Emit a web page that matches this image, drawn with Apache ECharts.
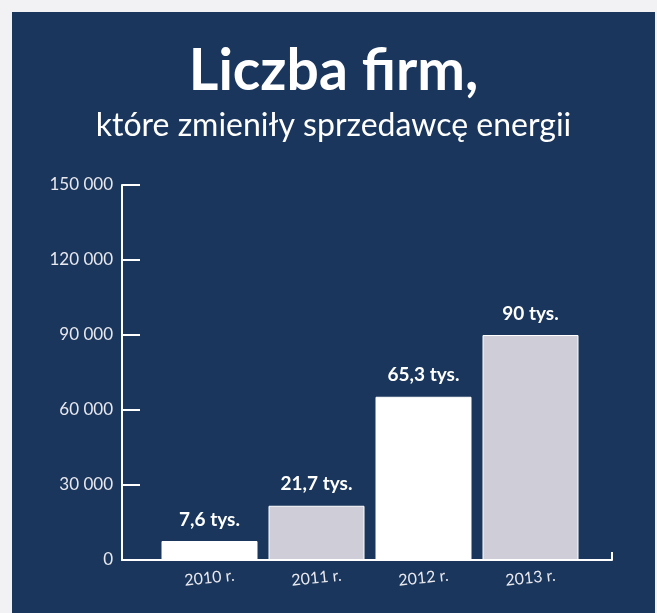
<!DOCTYPE html>
<html>
<head>
<meta charset="utf-8">
<script src="https://cdn.jsdelivr.net/npm/echarts@6/dist/echarts.min.js"></script>
<style>
  html, body { margin: 0; padding: 0; background: #f2f2f4; }
  #main { position: absolute; left: 12px; top: 12px; width: 643px; height: 601px; }
</style>
</head>
<body>
<div id="main"></div>
<script>
// dane
const years = ['2010 r.', '2011 r.', '2012 r.', '2013 r.'];
const firms = [7600, 21700, 65300, 90000];
const barColors = ['#ffffff', '#cfcdd8', '#ffffff', '#cfcdd8'];
const yTicks = [0, 30000, 60000, 90000, 120000, 150000];

const navy = '#1a365c';
const font = 'Lato';

let myChart = echarts.init(document.getElementById('main'));

let option = {
  backgroundColor: navy,
  animation: false,
  title: {
    text: 'Liczba firm,',
    subtext: 'które zmieniły sprzedawcę energii',
    left: 'center',
    top: 26,
    itemGap: 10,
    textStyle: { color: '#fff', fontFamily: font, fontWeight: 'bold', fontSize: 57 },
    subtextStyle: { color: '#fff', fontFamily: font, fontSize: 32 }
  },
  grid: [
    { left: 144, width: 428, top: 173, height: 375 },
    { left: 110, width: 490, top: 173, height: 375 }
  ],
  xAxis: [
    {
      type: 'category',
      gridIndex: 0,
      data: years,
      axisLine: { show: false },
      axisTick: { show: false },
      axisLabel: {
        color: '#e8e8ee', fontFamily: font, fontSize: 16,
        rotate: 6, align: 'center', verticalAlign: 'middle', margin: 18
      }
    },
    {
      type: 'value',
      gridIndex: 1,
      min: 0, max: 1, interval: 1,
      axisLine: { show: true, lineStyle: { color: '#fff', width: 2 } },
      axisTick: { show: true, inside: true, length: 8, lineStyle: { color: '#fff', width: 2 } },
      axisLabel: { show: false },
      splitLine: { show: false }
    }
  ],
  yAxis: [
    {
      type: 'value',
      gridIndex: 0,
      min: yTicks[0],
      max: yTicks[yTicks.length - 1],
      interval: 30000,
      offset: 34,
      axisLine: { show: true, lineStyle: { color: '#fff', width: 2 } },
      axisTick: { show: true, inside: true, length: 18, lineStyle: { color: '#fff', width: 2 } },
      splitLine: { show: false },
      axisLabel: {
        color: '#e8e8ee', fontFamily: font, fontSize: 17, margin: 9,
        formatter: v => String(v).replace(/\B(?=(\d{3})+(?!\d))/g, ' ')
      }
    },
    {
      type: 'value',
      gridIndex: 1,
      show: false
    }
  ],
  series: [{
    type: 'bar',
    xAxisIndex: 0,
    yAxisIndex: 0,
    barWidth: 96,
    data: firms.map((v, i) => ({
      value: v,
      itemStyle: { color: barColors[i] }
    })),
    itemStyle: { borderColor: '#fff', borderWidth: 1 },
    label: {
      show: true,
      position: 'top',
      distance: 12,
      color: '#fff',
      fontFamily: font,
      fontWeight: 'bold',
      fontSize: 19,
      formatter: p => String(p.value / 1000).replace('.', ',') + ' tys.'
    }
  }]
};

myChart.setOption(option);
</script>
</body>
</html>
